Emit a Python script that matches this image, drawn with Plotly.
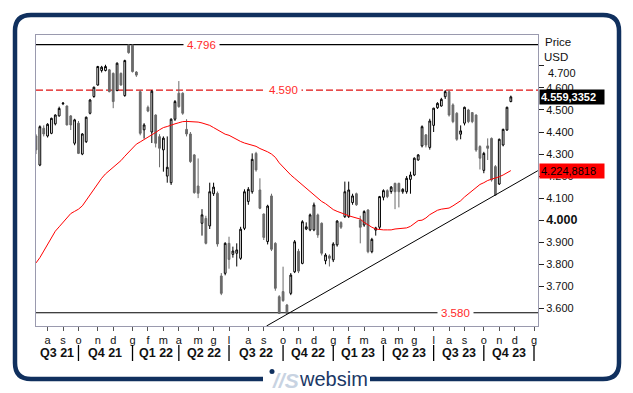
import plotly.graph_objects as go
import pandas as pd

# ---------------- data (weekly candles, Fridays, from 2021-07-16) ----------------
first_week = "2021-07-16"
opens = [4.382,4.250,4.417,4.382,4.394,4.437,4.473,4.528,4.518,4.473,4.349,4.440,4.300,4.356,4.485,4.561,4.613,4.679,4.679,4.682,
         4.666,4.588,4.666,4.565,4.795,4.795,4.672,4.583,4.410,4.512,4.400,4.477,4.379,4.319,4.200,4.170,4.458,4.576,4.576,4.412,
         4.391,4.296,4.155,3.986,4.008,3.974,4.120,4.122,3.747,3.759,3.895,3.845,3.850,3.827,3.963,4.085,4.129,4.303,4.137,4.028,
         3.903,4.110,3.895,3.653,3.676,3.615,3.668,3.766,3.859,3.804,3.960,3.956,3.956,4.024,3.986,3.816,3.838,3.820,3.888,3.989,
         4.016,4.016,4.080,4.120,4.001,3.978,4.046,3.857,3.955,3.968,4.104,4.134,4.130,4.167,4.167,4.129,4.129,4.185,4.205,4.273,
         4.337,4.387,4.330,4.430,4.510,4.518,4.560,4.583,4.523,4.485,4.390,4.440,4.500,4.488,4.477,4.334,4.226,4.337,4.371,4.243,
         4.164,4.341,4.409,4.538]
highs = [4.390,4.430,4.430,4.440,4.465,4.480,4.515,4.535,4.520,4.477,4.460,4.450,4.395,4.470,4.550,4.606,4.700,4.700,4.705,4.686,
         4.670,4.716,4.670,4.728,4.796,4.796,4.676,4.590,4.440,4.520,4.590,4.480,4.390,4.380,4.380,4.462,4.545,4.631,4.580,4.458,
         4.400,4.300,4.280,4.050,4.020,4.170,4.170,4.130,3.760,3.900,3.925,3.880,3.895,3.970,4.140,4.150,4.303,4.310,4.190,4.030,
         4.070,4.120,3.900,3.660,3.789,3.620,3.760,3.910,3.870,4.000,3.990,4.030,4.080,4.030,3.990,3.850,3.845,3.900,4.000,3.995,
         4.175,4.175,4.120,4.125,4.020,4.045,4.050,3.920,3.970,4.110,4.140,4.140,4.155,4.170,4.170,4.145,4.200,4.220,4.285,4.300,
         4.430,4.390,4.460,4.510,4.535,4.555,4.590,4.590,4.530,4.490,4.430,4.515,4.505,4.490,4.480,4.340,4.310,4.371,4.375,4.250,
         4.370,4.415,4.515,4.565]
lows = [4.300,4.245,4.380,4.375,4.390,4.430,4.470,4.522,4.430,4.409,4.340,4.300,4.295,4.350,4.480,4.555,4.610,4.670,4.675,4.580,
        4.508,4.585,4.610,4.560,4.755,4.670,4.650,4.385,4.370,4.490,4.350,4.330,4.240,4.220,4.170,4.160,4.450,4.510,4.478,4.380,
        4.260,4.120,4.100,3.930,3.890,3.960,4.110,3.880,3.660,3.750,3.780,3.830,3.790,3.820,3.955,4.070,4.120,4.220,4.050,3.910,
        3.890,3.860,3.680,3.575,3.630,3.575,3.660,3.760,3.760,3.800,3.955,3.950,3.950,3.920,3.840,3.800,3.790,3.810,3.880,3.960,
        4.010,4.010,4.070,4.065,3.895,3.970,3.850,3.850,3.930,3.960,4.090,4.100,4.120,4.050,4.058,4.120,4.120,4.120,4.200,4.270,
        4.330,4.330,4.320,4.400,4.505,4.515,4.550,4.470,4.440,4.360,4.367,4.430,4.440,4.440,4.310,4.230,4.213,4.273,4.175,4.110,
        4.160,4.335,4.405,4.535]
closes = [4.319,4.424,4.391,4.435,4.462,4.477,4.507,4.531,4.432,4.432,4.455,4.303,4.391,4.467,4.545,4.603,4.697,4.694,4.697,4.583,
          4.538,4.712,4.613,4.724,4.760,4.674,4.658,4.394,4.432,4.495,4.585,4.349,4.326,4.372,4.240,4.458,4.538,4.515,4.485,4.391,
          4.266,4.125,4.122,4.024,3.895,4.129,4.150,3.892,3.668,3.895,3.822,3.860,3.865,3.959,4.129,4.140,4.276,4.228,4.054,3.922,
          4.064,3.868,3.691,3.577,3.635,3.577,3.751,3.902,3.769,3.993,3.970,4.024,4.069,3.933,3.850,3.842,3.827,3.892,3.996,3.968,
          4.129,4.137,4.110,4.070,3.968,4.039,3.857,3.913,3.965,4.107,4.134,4.107,4.150,4.129,4.129,4.140,4.190,4.205,4.281,4.296,
          4.424,4.341,4.450,4.508,4.530,4.548,4.583,4.477,4.447,4.367,4.405,4.512,4.447,4.447,4.318,4.281,4.303,4.326,4.182,4.114,
          4.367,4.412,4.512,4.5593]
ma40 = [3.806,3.83,3.86,3.89,3.92,3.95,3.97,3.99,4.01,4.03,4.04,4.05,4.065,4.09,4.12,4.145,4.17,4.19,4.21,4.225,4.24,4.255,4.27,4.29,
        4.31,4.33,4.345,4.355,4.365,4.375,4.385,4.398,4.41,4.42,4.425,4.432,4.437,4.442,4.447,4.448,4.448,4.447,4.445,4.441,4.437,4.43,
        4.42,4.41,4.40,4.39,4.385,4.375,4.365,4.357,4.35,4.345,4.34,4.335,4.325,4.318,4.31,4.30,4.285,4.26,4.24,4.225,4.205,4.19,4.175,
        4.16,4.145,4.13,4.115,4.10,4.085,4.075,4.06,4.048,4.04,4.032,4.027,4.02,4.015,4.01,4.005,3.99,3.978,3.968,3.96,3.957,3.956,3.956,
        3.956,3.96,3.962,3.964,3.965,3.972,3.986,3.998,4.00,4.01,4.025,4.035,4.045,4.05,4.052,4.055,4.065,4.075,4.088,4.105,4.12,4.135,
        4.15,4.162,4.17,4.18,4.186,4.19,4.197,4.205,4.215,4.2249]

last_price_text = "4.559,3352"
last_ma_value = 4.2248818
last_ma_text = "4.224,8818"

levels = [4.796, 4.590, 3.580]
level_texts = ["4.796", "4.590", "3.580"]
level_dash = ["solid", "7px,3px", "solid"]
level_colors = ["#000000", "#e01010", "#000000"]
level_label_pos = [0.293, 0.494, 0.8735]

trend_dates = ["2022-09-07", "2024-01-12"]
trend_values = [3.520, 4.2246]

y_ticks = [3.6, 3.7, 3.8, 3.9, 4.0, 4.1, 4.2, 4.3, 4.4, 4.5, 4.6, 4.7]
y_labels = ["3.600", "3.700", "3.800", "3.900", "<b><span style='font-size:12.5px'>4.000</span></b>",
            "4.100", "4.200", "4.300", "4.400", "4.500", "4.600", ""]

month_ticks = ["2021-08-06","2021-09-03","2021-10-01","2021-11-05","2021-12-03","2022-01-07","2022-02-04","2022-03-04",
               "2022-04-01","2022-05-06","2022-06-03","2022-07-01","2022-08-05","2022-09-02","2022-10-07","2022-11-04",
               "2022-12-02","2023-01-06","2023-02-03","2023-03-03","2023-04-07","2023-05-05","2023-06-02","2023-07-07",
               "2023-08-04","2023-09-01","2023-10-06","2023-11-03","2023-12-01","2024-01-05"]
month_labels = ["a","s","o","n","d","g","f","m","a","m","g","l","a","s","o","n","d","g","f","m","a","m","g","l",
                "a","s","o","n","d","g"]
quarter_starts = ["2021-10-01","2022-01-07","2022-04-01","2022-07-01","2022-10-07","2023-01-06","2023-04-07",
                  "2023-07-07","2023-10-06","2024-01-05"]
quarter_labels = ["Q3 21","Q4 21","Q1 22","Q2 22","Q3 22","Q4 22","Q1 23","Q2 23","Q3 23","Q4 23"]
x_range = ["2021-07-16", "2024-01-12 06:00"]

# ---------------- geometry helpers ----------------
W, H = 633, 393
PL, PR, PT, PB = 36, 538, 35, 326
def px(x):
    return (x - PL) / (PR - PL)
def py(y):
    return (PB - y) / (PB - PT)

dates = pd.date_range(first_week, periods=len(closes), freq="7D")

fig = go.Figure()
fig.add_trace(go.Candlestick(
    x=dates, open=opens, high=highs, low=lows, close=closes,
    increasing=dict(line=dict(color="#000000", width=1), fillcolor="#ffffff"),
    decreasing=dict(line=dict(color="#6a6a6a", width=1), fillcolor="#6a6a6a"),
    whiskerwidth=0, showlegend=False, hoverinfo="skip"))
fig.add_trace(go.Scatter(x=dates, y=ma40, mode="lines", line=dict(color="#ff0000", width=1),
                         showlegend=False, hoverinfo="skip"))
fig.add_trace(go.Scatter(x=trend_dates, y=trend_values, mode="lines", line=dict(color="#000000", width=1),
                         showlegend=False, hoverinfo="skip"))

shapes = []
annotations = []
for lv, txt, dsh, col, pos in zip(levels, level_texts, level_dash, level_colors, level_label_pos):
    shapes.append(dict(type="line", xref="paper", yref="y", x0=0, x1=1, y0=lv, y1=lv,
                       line=dict(color=col, width=1.2, dash=dsh), layer="below"))
    annotations.append(dict(xref="paper", yref="y", x=pos, y=lv, text=txt, showarrow=False,
                            font=dict(family="Liberation Sans, Arial", size=11.5, color="#ff2a2a"),
                            bgcolor="#ffffff", borderpad=3))

# quarter separators and labels
qdates = pd.to_datetime(quarter_starts)
for d in qdates:
    shapes.append(dict(type="line", xref="x", yref="paper", x0=d, x1=d, y0=py(345), y1=py(361),
                       line=dict(color="#000000", width=1.3)))
bounds = [pd.Timestamp(x_range[0])] + list(qdates)
for i, lab in enumerate(quarter_labels):
    mid = bounds[i] + (bounds[i + 1] - bounds[i]) / 2
    annotations.append(dict(xref="x", yref="paper", x=mid, y=py(353), text="<b>" + lab + "</b>", showarrow=False,
                            font=dict(family="Liberation Sans, Arial", size=12.5, color="#111111"),
                            xanchor="center", yanchor="middle"))

# right side texts
annotations += [
    dict(xref="paper", yref="paper", x=px(543), y=py(41.5), text="Price", showarrow=False, xanchor="left",
         yanchor="middle", font=dict(family="Liberation Sans, Arial", size=11.5, color="#111111")),
    dict(xref="paper", yref="paper", x=px(542), y=py(57), text="USD", showarrow=False, xanchor="left",
         yanchor="middle", font=dict(family="Liberation Sans, Arial", size=11.5, color="#111111")),
    dict(xref="paper", yref="paper", x=px(546), y=py(73), text="4.700", showarrow=False, xanchor="left",
         yanchor="middle", font=dict(family="Liberation Sans, Arial", size=11, color="#111111")),
    dict(xref="paper", yref="y", x=px(539), y=closes[-1], text="<b>" + last_price_text + "</b>", showarrow=False,
         xanchor="left", yanchor="middle", bgcolor="#000000", width=62, height=12, align="left", borderpad=1,
         font=dict(family="Liberation Sans, Arial", size=11, color="#ffffff")),
    dict(xref="paper", yref="y", x=px(539), y=last_ma_value, text=last_ma_text, showarrow=False,
         xanchor="left", yanchor="middle", bgcolor="#ff0000", width=62, height=12, align="left", borderpad=1,
         font=dict(family="Liberation Sans, Arial", size=11, color="#000000")),
]

# frame (rounded rectangle with a gap for the logo)
fx0, fx1, fy0, fy1, r = 15, 619, 15, 379, 16
gl, gr = 263, 370
path = (f"M {px(gl)},{py(fy1)} L {px(fx0 + r)},{py(fy1)} Q {px(fx0)},{py(fy1)} {px(fx0)},{py(fy1 - r)} "
        f"L {px(fx0)},{py(fy0 + r)} Q {px(fx0)},{py(fy0)} {px(fx0 + r)},{py(fy0)} "
        f"L {px(fx1 - r)},{py(fy0)} Q {px(fx1)},{py(fy0)} {px(fx1)},{py(fy0 + r)} "
        f"L {px(fx1)},{py(fy1 - r)} Q {px(fx1)},{py(fy1)} {px(fx1 - r)},{py(fy1)} L {px(gr)},{py(fy1)}")
shapes.append(dict(type="path", xref="paper", yref="paper", path=path, line=dict(color="#10305e", width=4.5)))
shapes.append(dict(type="circle", xref="paper", yref="paper", x0=px(269.5), x1=px(274.5), y0=py(369), y1=py(374),
                   fillcolor="#10305e", line=dict(width=0)))
annotations += [
    dict(xref="paper", yref="paper", x=px(285), y=py(380), text="<b><i>//S</i></b>", showarrow=False,
         xanchor="center", yanchor="middle", font=dict(family="Liberation Sans, Arial", size=21, color="#c8d3e2")),
    dict(xref="paper", yref="paper", x=px(333), y=py(379), text="websim", showarrow=False,
         xanchor="center", yanchor="middle", font=dict(family="Liberation Sans, Arial", size=20, color="#1b3866")),
]

fig.update_layout(
    width=W, height=H, margin=dict(l=PL, r=W - PR, t=PT, b=H - PB, pad=0),
    paper_bgcolor="#ffffff", plot_bgcolor="#ffffff", showlegend=False,
    boxgap=0.35, shapes=shapes, annotations=annotations,
    font=dict(family="Liberation Sans, Arial", color="#111111"),
    xaxis=dict(type="date", range=x_range, rangeslider=dict(visible=False), showgrid=False, zeroline=False,
               tickmode="array", tickvals=pd.to_datetime(month_ticks), ticktext=month_labels,
               ticks="outside", ticklen=4, tickcolor="#555555", tickfont=dict(size=11, color="#111111"),
               showline=True, linecolor="#9a9aae", linewidth=1, mirror=True),
    yaxis=dict(range=[3.520, 4.840], side="right", showgrid=False, zeroline=False,
               tickmode="array", tickvals=y_ticks, ticktext=y_labels,
               ticks="outside", ticklen=5, tickcolor="#222222", tickfont=dict(size=11, color="#111111"),
               showline=True, linecolor="#9a9aae", linewidth=1, mirror=True),
)

fig.write_html("out.html", config={"displayModeBar": False},
               post_script="document.body.style.margin='0';document.body.style.overflow='hidden';")
